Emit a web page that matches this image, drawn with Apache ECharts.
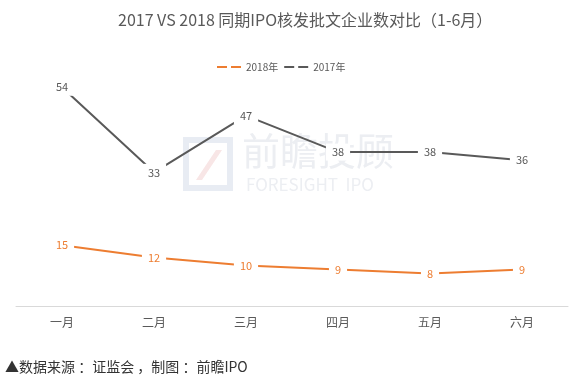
<!DOCTYPE html>
<html><head><meta charset="utf-8">
<script src="https://cdn.jsdelivr.net/npm/echarts@6/dist/echarts.min.js"></script>
<style>html,body{margin:0;padding:0;background:#fff}#c{width:575px;height:380px}</style>
</head><body><div id="c"></div>
<script>
const categories = ['一月','二月','三月','四月','五月','六月'];
const s2018 = [15,12,10,9,8,9];
const s2017 = [54,33,47,38,38,36];
const seriesNames = ['2018年','2017年'];
const titleText = '2017 VS 2018 同期IPO核发批文企业数对比（1-6月）';
const footerText = '▲数据来源 ：证监会 ，制图 ：前瞻IPO';

const font = '"Microsoft YaHei","Noto Sans CJK SC","Noto Sans",sans-serif';
const chart = echarts.init(document.getElementById('c'), null, {renderer:'canvas'});
const dashIcon = 'path://M0,0 h10 v2 h-10z M14,0 h10 v2 h-10z';
function lbl(color){
  return {show:true, position:'inside', color:color, fontSize:11, fontFamily:font,
    backgroundColor:'#fff', padding:[3,6]};
}
chart.setOption({
  animation:false,
  backgroundColor:'#fff',
  title:{text:titleText, left:113, top:7,
    textStyle:{fontSize:16, fontWeight:'normal', color:'#595959', fontFamily:font}},
  legend:{top:57, left:212, itemWidth:24, itemHeight:2, itemGap:6,
    textStyle:{fontSize:10, color:'#595959', fontFamily:font},
    data:[{name:seriesNames[0], icon:dashIcon},{name:seriesNames[1], icon:dashIcon}]},
  graphic:[
    {type:'group', left:183, top:132, silent:true, z:-1, children:[
      {type:'rect', shape:{x:2, y:8, width:44, height:48}, style:{fill:'none', stroke:'#e8ecf3', lineWidth:6}},
      {type:'polygon', shape:{points:[[12,48],[18,48],[38,18],[32,18]]}, style:{fill:'#f8e6e6'}},
      {type:'text', x:58, y:0, style:{text:'前瞻投顾', fontSize:38, fill:'#eceef2', fontFamily:font}},
      {type:'text', x:62, y:44, style:{text:'FORESIGHT  IPO', fontSize:17, fill:'#eceef2', fontFamily:font}}
    ]},
    {type:'text', left:5, top:360, style:{text:footerText, fontSize:14, fill:'#333', fontFamily:font}}
  ],
  grid:{left:16, right:7, top:63, bottom:74},
  xAxis:{type:'category', data:categories, boundaryGap:true,
    axisLine:{lineStyle:{color:'#d9d9d9', width:1}}, axisTick:{show:false},
    axisLabel:{color:'#595959', fontSize:12, margin:10, fontFamily:font}},
  yAxis:{type:'value', min:0, max:60, show:false, splitLine:{show:false}},
  series:[
    {name:seriesNames[0], type:'line', data:s2018, symbol:'circle', symbolSize:1,
     itemStyle:{color:'#ED7D31'}, lineStyle:{color:'#ED7D31', width:2}, label:lbl('#ED7D31')},
    {name:seriesNames[1], type:'line', data:s2017, symbol:'circle', symbolSize:1,
     itemStyle:{color:'#595959'}, lineStyle:{color:'#595959', width:2}, label:lbl('#595959')}
  ]
});
</script></body></html>
